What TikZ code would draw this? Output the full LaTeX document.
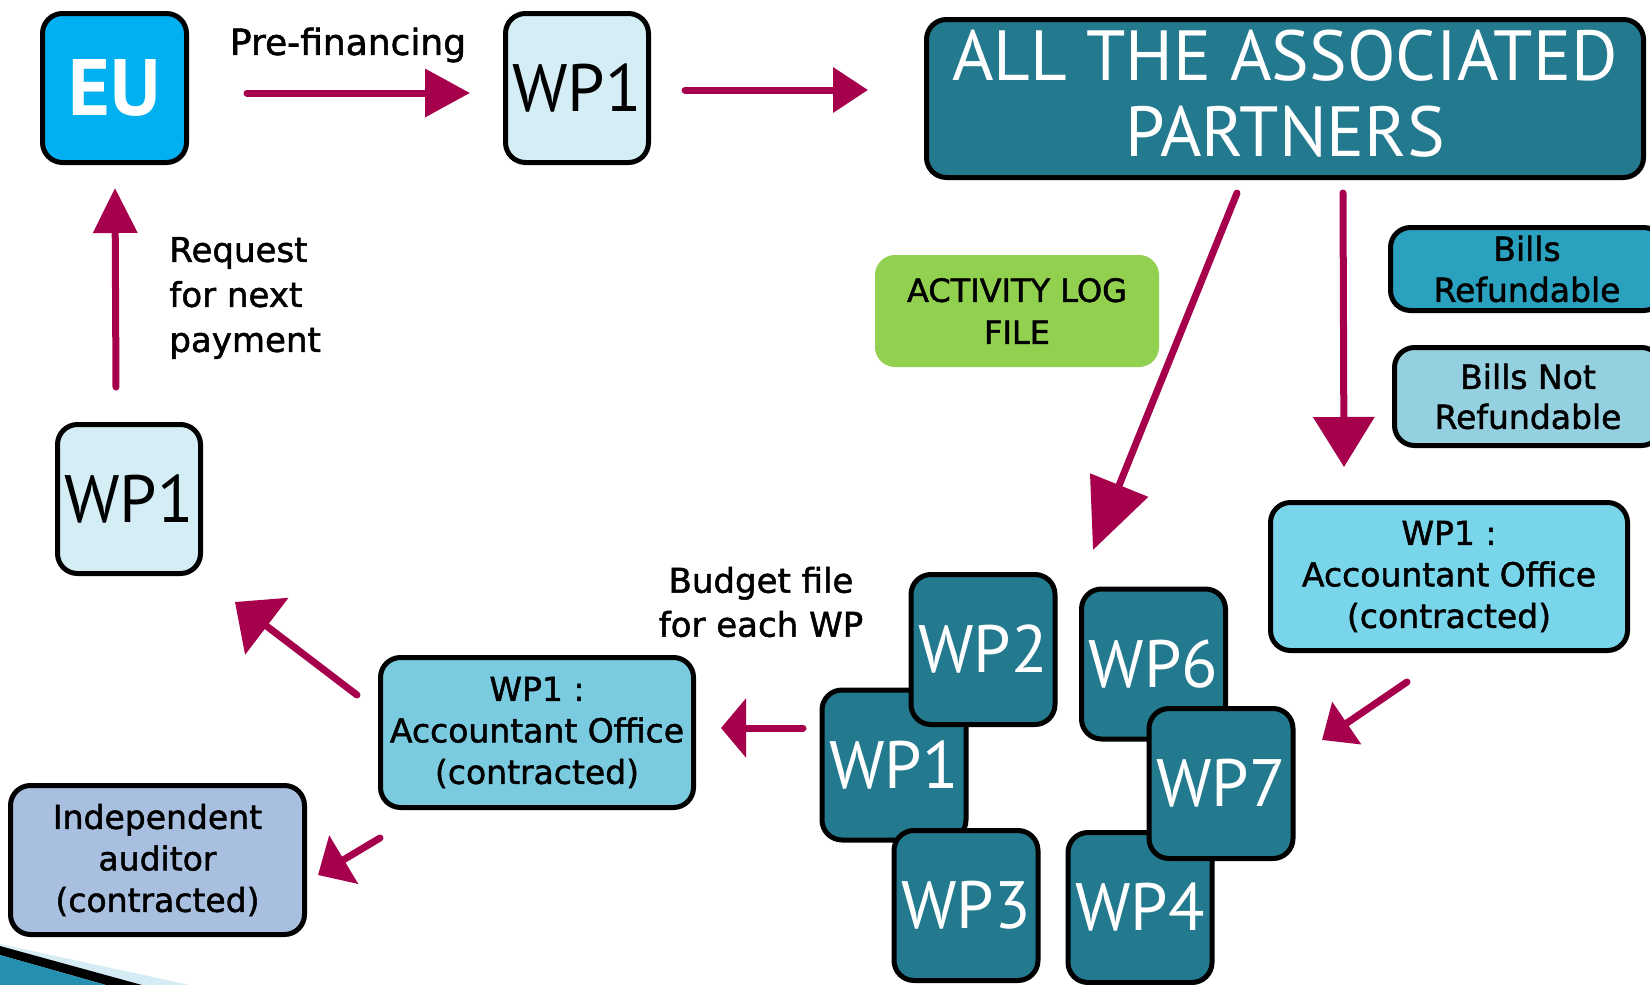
\documentclass[tikz,border=0pt]{standalone}
\usepackage{fontspec}
\setmainfont{DejaVu Sans}[FakeBold=1.5]
\newfontfamily\ptsans{PT Sans}
\usetikzlibrary{arrows.meta}
\definecolor{euc}{HTML}{00B0F0}
\definecolor{lightc}{HTML}{D5EDF5}
\definecolor{tealc}{HTML}{23798D}
\definecolor{billsr}{HTML}{2AA2BF}
\definecolor{billsn}{HTML}{95D0E1}
\definecolor{acctr}{HTML}{78D5EA}
\definecolor{acctl}{HTML}{7BCBE0}
\definecolor{auditc}{HTML}{A9BFE0}
\definecolor{greenc}{HTML}{92D050}
\definecolor{arrc}{HTML}{A6004C}
\definecolor{decoc}{HTML}{2590B0}
\definecolor{decolight}{HTML}{D6ECF4}
\begin{document}
\begin{tikzpicture}[x=0.5pt,y=-0.5pt,
  box/.style={draw=black, line width=2.5pt, rounded corners=10pt, inner sep=0pt, align=center},
  txt/.style={font=\fontsize{16.5}{20.75}\selectfont},
  wpbig/.style={box, fill=tealc, text=white, font=\ptsans\fontsize{33.5}{38}\selectfont,
     minimum width=72pt, minimum height=75pt},
  wplight/.style={box, fill=lightc, text=black, font=\ptsans\fontsize{33.5}{38}\selectfont,
     minimum width=71.5pt, minimum height=74.5pt},
  arr/.style 2 args={draw=arrc, line width=3.5pt, line cap=round, -{Triangle[length=#1,width=#2]}},
  plain/.style={inner sep=0pt, align=center}
]
\clip (0,0) rectangle (1650,985);
\useasboundingbox (0,0) rectangle (1650,985);

% bottom-left decoration
\fill[decolight] (0,944) -- (190,985) -- (0,985) -- cycle;
\fill[black] (0,946) -- (142,985) -- (106,985) -- (0,955) -- cycle;
\fill[decoc] (0,955) -- (106,985) -- (0,985) -- cycle;

% top row
\node[box, fill=euc, text=white, font=\ptsans\bfseries\fontsize{40}{44}\selectfont,
      minimum width=72pt, minimum height=74.5pt] (eu) at (114.5,88) {EU};
\node[wplight] (wptop) at (577,88) {WP1};
\node[box, fill=tealc, text=white, font=\ptsans\fontsize{35.5}{38}\selectfont,
      minimum width=358.5pt, minimum height=79pt, text depth=5pt] (all) at (1285,98.5) {ALL THE ASSOCIATED\\PARTNERS};

\node[plain, font=\fontsize{18}{20}\selectfont] (pre) at (348,45) {Pre-financing};

% middle
\node[fill=greenc, rounded corners=10pt, minimum width=142pt, minimum height=56pt, inner sep=0pt,
      align=center, font=\fontsize{16}{21}\selectfont] (log) at (1017,311) {ACTIVITY LOG\\FILE};
\node[box, fill=billsr, txt, minimum width=136.5pt, minimum height=41.5pt,
      font=\fontsize{16.5}{20.5}\selectfont] (br) at (1527,269) {Bills\\Refundable};
\node[box, fill=billsn, txt, minimum width=133.5pt, minimum height=49pt,
      font=\fontsize{16.5}{20}\selectfont] (bn) at (1528,396.5) {Bills Not\\Refundable};

\node[plain, txt, anchor=west, align=left, font=\fontsize{17}{22.5}\selectfont] (req) at (169,298) {Request\\for next\\payment};
\node[wplight] (wplow) at (129,499) {WP1};

\node[box, fill=acctr, txt, minimum width=178.5pt, minimum height=74pt] (acr) at (1449,576.5) {WP1 :\\Accountant Office\\(contracted)};
\node[box, fill=acctl, txt, minimum width=156.5pt, minimum height=75pt] (acl) at (537,732.5) {WP1 :\\Accountant Office\\(contracted)};
\node[box, fill=auditc, txt, minimum width=147pt, minimum height=74.5pt] (aud) at (157.5,860) {Independent\\auditor\\(contracted)};

\node[plain, txt, font=\fontsize{17}{22}\selectfont] (budget) at (761,602) {Budget file\\for each WP};

% WP cluster
\node[wpbig] (c1) at (894,765) {WP1};
\node[wpbig] (c2) at (983,649.5) {WP2};
\node[wpbig] (c3) at (966,905.5) {WP3};
\node[wpbig] (c6) at (1153.5,664) {WP6};
\node[wpbig] (c4) at (1140,907.5) {WP4};
\node[wpbig] (c7) at (1221,783.5) {WP7};

% arrow end points
\coordinate (a1s) at (247,93);   \coordinate (a1e) at (470,93);
\coordinate (a2s) at (685,90);   \coordinate (a2e) at (868,90);
\coordinate (a3s) at (1237,193); \coordinate (a3e) at (1093,550);
\coordinate (a4s) at (1343,193); \coordinate (a4e) at (1344,467);
\coordinate (a5s) at (1407,682); \coordinate (a5e) at (1322,740);
\coordinate (a6s) at (803,728);  \coordinate (a6e) at (721,728);
\coordinate (a7s) at (357,695);  \coordinate (a7e) at (235,602);
\coordinate (a8s) at (380,838);  \coordinate (a8e) at (318,875);
\coordinate (a9s) at (116,387);  \coordinate (a9e) at (115,188);

\draw[arr={22.5pt}{23.5pt}] (a1s) -- (a1e);
\draw[arr={17.5pt}{22pt}] (a2s) -- (a2e);
\draw[arr={35pt}{30.5pt}] (a3s) -- (a3e);
\draw[arr={25pt}{30pt}] (a4s) -- (a4e);
\draw[arr={15pt}{25pt}] (a5s) -- (a5e);
\draw[arr={12.5pt}{29pt}] (a6s) -- (a6e);
\draw[arr={20pt}{35pt}] (a7s) -- (a7e);
\draw[arr={15pt}{27.5pt}] (a8s) -- (a8e);
\draw[arr={22.5pt}{21.5pt}] (a9s) -- (a9e);
\end{tikzpicture}
\end{document}
